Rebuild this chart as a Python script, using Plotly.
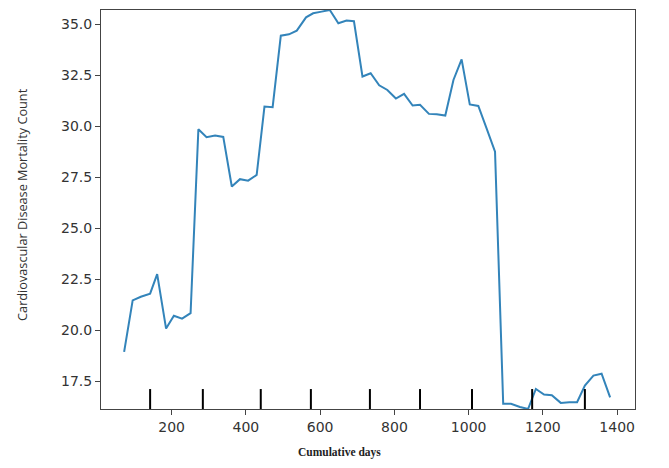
import plotly.graph_objects as go

days = [72, 95, 117, 142, 161, 185, 206, 228, 251, 272, 294, 317, 339, 362, 384,
        406, 429, 450, 472, 494, 516, 537, 562, 581, 604, 626, 649, 671, 691, 714,
        736, 759, 781, 804, 826, 849, 869, 893, 914, 937, 959, 981, 1003, 1026, 1048,
        1071, 1093, 1114, 1138, 1160, 1181, 1203, 1224, 1248, 1271, 1292, 1313, 1336, 1358, 1381]
mortality = [18.95, 21.47, 21.65, 21.8, 22.76, 20.09, 20.72, 20.58, 20.85, 29.86, 29.47, 29.55, 29.48, 27.05, 27.41,
             27.34, 27.62, 30.97, 30.94, 34.44, 34.51, 34.69, 35.34, 35.54, 35.62, 35.70, 35.05, 35.18, 35.15, 32.44,
             32.60, 32.01, 31.78, 31.36, 31.59, 31.02, 31.06, 30.61, 30.59, 30.53, 32.27, 33.28, 31.07, 31.00, 29.91,
             28.76, 16.41, 16.41, 16.25, 16.15, 17.13, 16.86, 16.82, 16.45, 16.48, 16.48, 17.30, 17.79, 17.88, 16.72]
deciles = [142, 284, 440, 575, 734, 869, 1009, 1171, 1313]
x_ticks = [200, 400, 600, 800, 1000, 1200, 1400]
y_ticks = [17.5, 20.0, 22.5, 25.0, 27.5, 30.0, 32.5, 35.0]

fig = go.Figure()
fig.add_trace(go.Scatter(x=days, y=mortality, mode="lines",
                         line=dict(color="#3384ba", width=2), showlegend=False))

for d in deciles:
    fig.add_shape(type="line", x0=d, x1=d, xref="x", y0=0, y1=0.05, yref="y domain",
                  line=dict(color="black", width=2))

axis_common = dict(showgrid=False, zeroline=False, showline=True, mirror=True,
                   linecolor="#444444", linewidth=1, ticks="outside", ticklen=5,
                   tickcolor="#444444", tickwidth=1,
                   tickfont=dict(family="DejaVu Sans", size=14, color="#333333"))

fig.update_xaxes(range=[9.7, 1448], tickvals=x_ticks,
                 ticktext=[str(v) for v in x_ticks], **axis_common)
fig.update_yaxes(range=[16.15, 35.70], tickvals=y_ticks,
                 ticktext=[f"{v:.1f}" for v in y_ticks], **axis_common)

fig.add_annotation(text="Cardiovascular Disease Mortality Count", textangle=-90,
                   xref="paper", yref="paper", x=-0.148, y=0.514, showarrow=False,
                   xanchor="center", yanchor="middle",
                   font=dict(family="Open Sans", size=12.7, color="#333333"))
fig.add_annotation(text="<b>Cumulative days</b>", xref="paper", yref="paper",
                   x=(339 - 101) / (635 - 101), y=-0.108, showarrow=False,
                   xanchor="center", yanchor="middle",
                   font=dict(family="Liberation Serif", size=11.5, color="#222222"))

fig.update_layout(width=661, height=460, plot_bgcolor="white", paper_bgcolor="white",
                  margin=dict(l=93, r=34, t=2, b=59))

fig.write_html("out.html")
